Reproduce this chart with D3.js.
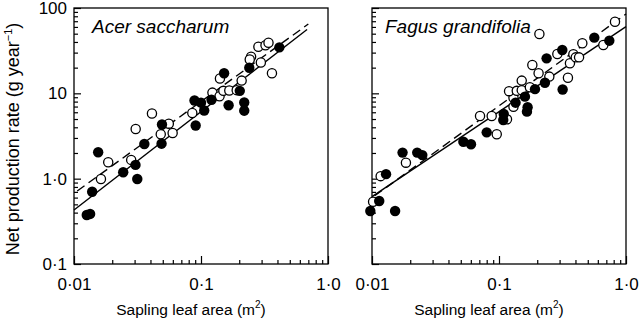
<!DOCTYPE html>
<html><head><meta charset="utf-8">
<script src="https://cdn.jsdelivr.net/npm/d3@7"></script>
<style>
body{margin:0;background:#fff;}
svg{display:block;font-family:"Liberation Sans",Arial,Helvetica,sans-serif;}
</style></head>
<body><svg id="c" width="640" height="327"></svg>
<script>
// ---- data ----
const speciesNames = ["Acer saccharum", "Fagus grandifolia"];
const acerFilledX = [0.0126,0.0134,0.0139,0.0155,0.0244,0.0305,0.0315,0.0358,0.0489,0.0493,0.0908,0.0889,0.100,0.106,0.121,0.165,0.152,0.202,0.219,0.219,0.240,0.414];
const acerFilledY = [0.375,0.386,0.703,2.04,1.19,1.45,0.99,2.55,2.57,4.31,4.2,8.24,7.77,6.29,8.42,7.26,17.2,10.7,7.81,6.26,19.96,34.6];
const acerOpenX = [0.0163,0.0186,0.0282,0.0306,0.0411,0.0482,0.0558,0.0598,0.0854,0.123,0.140,0.150,0.167,0.191,0.141,0.209,0.248,0.242,0.296,0.283,0.322,0.340,0.362];
const acerOpenY = [0.99,1.56,1.66,3.82,5.8,3.31,4.41,3.43,5.88,10.2,9.23,10.7,10.8,10.9,14.9,14.1,26.9,24.9,23.0,35.2,36.6,39.2,17.2];
const fagusFilledX = [0.0097,0.0114,0.0129,0.0152,0.0174,0.0227,0.0249,0.0524,0.0602,0.080,0.108,0.109,0.135,0.160,0.168,0.166,0.192,0.230,0.237,0.315,0.317,0.563,0.739];
const fagusFilledY = [0.418,0.548,1.13,0.418,2.02,2.02,1.89,2.71,2.53,3.49,4.87,5.73,7.77,9.14,6.86,6.1,11.2,13.3,25.7,32.2,11.1,44.9,41.4];
const fagusOpenX = [0.0102,0.0117,0.0185,0.0709,0.0876,0.096,0.1156,0.130,0.130,0.120,0.138,0.151,0.151,0.175,0.183,0.205,0.249,0.208,0.288,0.362,0.385,0.402,0.427,0.349,0.453,0.663,0.819];
const fagusOpenY = [0.537,1.07,1.54,5.42,5.42,3.31,4.96,6.97,8.89,10.6,10.7,10.9,14.1,11.8,21.5,17.2,15.7,49.6,28.9,22.5,28.7,26.4,26.4,15.2,38.6,36.8,69.1];
// fitted lines (end points)
const acerSolidX = [0.01, 0.684], acerSolidY = [0.43, 56];
const acerDashX = [0.0106, 0.70], acerDashY = [0.717, 64.9];
const fagusSolidX = [0.01, 1.0], fagusSolidY = [0.615, 60.4];
const fagusDashX = [0.0105, 1.0], fagusDashY = [0.63, 85];
const xTickValues = [0.01, 0.1, 1];
const xTickLabels = ["0\u00B701", "0\u00B71", "1\u00B70"];
const yTickValues = [0.1, 1, 10, 100];
const yTickLabels = ["0\u00B71", "1\u00B70", "10", "100"];
const xTitle = "Sapling leaf area (m";
const yTitle = "Net production rate (g year";

// ---- layout ----
const svg = d3.select("#c");
const plotTop = 8, plotBottom = 264;
const panels = [
  {x0:74, x1:328, name:speciesNames[0], fx:acerFilledX, fy:acerFilledY, ox:acerOpenX, oy:acerOpenY,
   sx:acerSolidX, sy:acerSolidY, dx:acerDashX, dy:acerDashY, yLabels:true},
  {x0:372, x1:626, name:speciesNames[1], fx:fagusFilledX, fy:fagusFilledY, ox:fagusOpenX, oy:fagusOpenY,
   sx:fagusSolidX, sy:fagusSolidY, dx:fagusDashX, dy:fagusDashY, yLabels:false}
];
const minors = [];
[0.01,0.1].forEach(d=>{for(let k=2;k<=9;k++) minors.push(d*k);});
const yMinors = [];
[0.1,1,10].forEach(d=>{for(let k=2;k<=9;k++) yMinors.push(d*k);});

panels.forEach((p,i)=>{
  const x = d3.scaleLog().domain([0.01,1]).range([p.x0,p.x1]);
  const y = d3.scaleLog().domain([0.1,100]).range([plotBottom,plotTop]);
  const g = svg.append("g");
  const xm = g.append("g").attr("transform",`translate(0,${plotBottom})`)
    .call(d3.axisBottom(x).tickValues(minors).tickSize(-4).tickFormat(""));
  const xM = g.append("g").attr("transform",`translate(0,${plotBottom})`)
    .call(d3.axisBottom(x).tickValues(xTickValues).tickSize(-8).tickPadding(14)
      .tickFormat((d,j)=>xTickLabels[j]));
  const ym = g.append("g").attr("transform",`translate(${p.x0},0)`)
    .call(d3.axisLeft(y).tickValues(yMinors).tickSize(-4).tickFormat(""));
  const yM = g.append("g").attr("transform",`translate(${p.x0},0)`)
    .call(d3.axisLeft(y).tickValues(yTickValues).tickSize(-7).tickPadding(7)
      .tickFormat((d,j)=>p.yLabels ? yTickLabels[j] : ""));
  [xm,xM,ym,yM].forEach(a=>{
    a.select(".domain").remove();
    a.selectAll("line").attr("stroke","#000").attr("stroke-width",1.2);
    a.selectAll("text").attr("fill","#000").style("font-size","17px")
      .style("font-family",'"Liberation Sans",Arial,sans-serif');
  });
  xM.selectAll("text").attr("dy","0.71em");
  g.append("rect").attr("x",p.x0).attr("y",plotTop).attr("width",p.x1-p.x0).attr("height",plotBottom-plotTop)
    .attr("fill","none").attr("stroke","#000").attr("stroke-width",1.3);
  const line = d3.line().x(d=>x(d[0])).y(d=>y(d[1]));
  g.append("path").datum(p.sx.map((v,j)=>[v,p.sy[j]])).attr("d",line)
    .attr("stroke","#000").attr("stroke-width",1.4).attr("fill","none");
  g.append("path").datum(p.dx.map((v,j)=>[v,p.dy[j]])).attr("d",line)
    .attr("stroke","#000").attr("stroke-width",1.4).attr("fill","none").attr("stroke-dasharray","9,5");
  g.selectAll(".o").data(p.ox.map((v,j)=>[v,p.oy[j]])).join("circle")
    .attr("cx",d=>x(d[0])).attr("cy",d=>y(d[1])).attr("r",4.6)
    .attr("fill","#fff").attr("stroke","#000").attr("stroke-width",1.3);
  g.selectAll(".f").data(p.fx.map((v,j)=>[v,p.fy[j]])).join("circle")
    .attr("cx",d=>x(d[0])).attr("cy",d=>y(d[1])).attr("r",5.2).attr("fill","#000");
  g.append("text").attr("x",p.x0 + (i===0?18:13)).attr("y",33)
    .style("font-size","19px").style("font-style","italic").text(p.name);
  const xt = g.append("text").attr("x",(p.x0+p.x1)/2 - 10).attr("y",315)
    .attr("text-anchor","middle").style("font-size","15.5px");
  xt.append("tspan").text(xTitle);
  xt.append("tspan").attr("dy",-7).style("font-size","10px").text("2");
  xt.append("tspan").attr("dy",7).text(")");
});
const yt = svg.append("text").attr("transform","translate(19,139) rotate(-90)")
  .attr("text-anchor","middle").style("font-size","18px");
yt.append("tspan").text(yTitle);
yt.append("tspan").attr("dy",-7).style("font-size","11px").text("\u22121");
yt.append("tspan").attr("dy",7).text(")");
</script></body></html>
